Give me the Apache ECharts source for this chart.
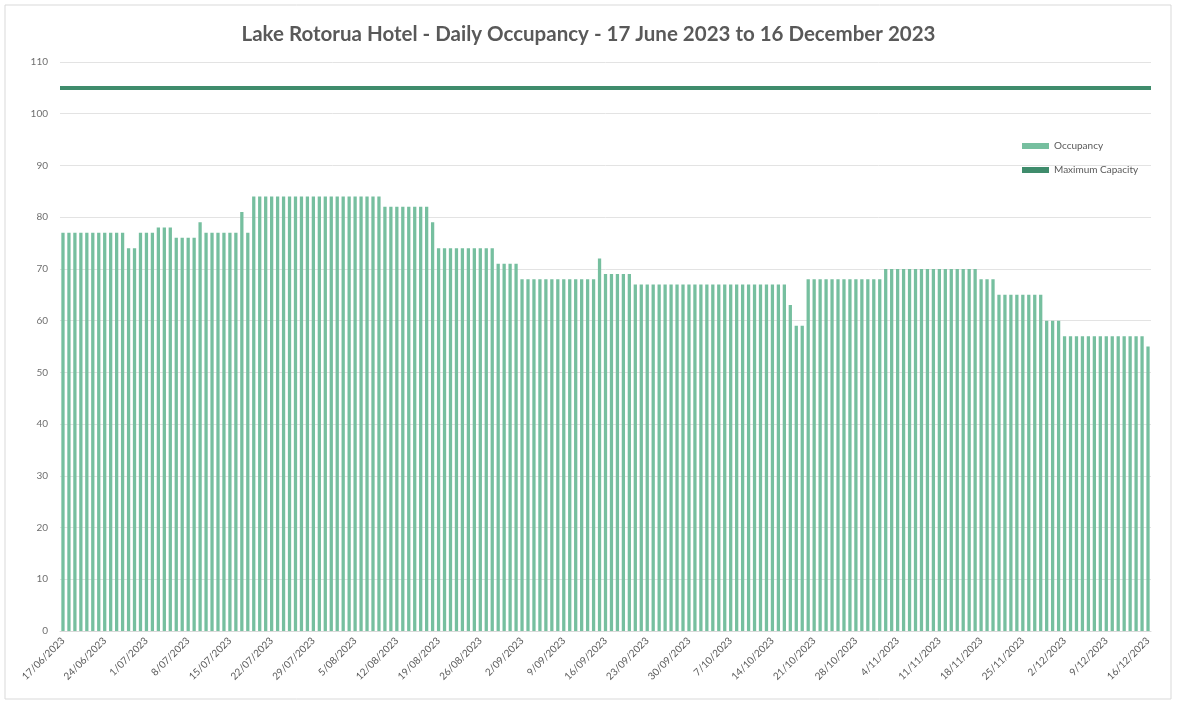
<!DOCTYPE html>
<html>
<head>
<meta charset="utf-8">
<script src="https://cdn.jsdelivr.net/npm/echarts@6/dist/echarts.min.js"></script>
<style>
  html, body { margin: 0; padding: 0; background: #fff; }
  #chart { width: 1177px; height: 702px; }
</style>
</head>
<body>
<div id="chart"></div>
<script>
// daily occupancy, 17/06/2023 .. 16/12/2023
const occupancy = [
  77, 77, 77, 77, 77, 77, 77, 77, 77, 77, 77, 74, 74, 77, 77, 77,
  78, 78, 78, 76, 76, 76, 76, 79, 77, 77, 77, 77, 77, 77, 81, 77,
  84, 84, 84, 84, 84, 84, 84, 84, 84, 84, 84, 84, 84, 84, 84, 84,
  84, 84, 84, 84, 84, 84,
  82, 82, 82, 82, 82, 82, 82, 82, 79,
  74, 74, 74, 74, 74, 74, 74, 74, 74, 74, 71, 71, 71, 71,
  68, 68, 68, 68, 68, 68, 68, 68, 68, 68, 68, 68, 68, 72,
  69, 69, 69, 69, 69,
  67, 67, 67, 67, 67, 67, 67, 67, 67, 67, 67, 67, 67, 67, 67, 67,
  67, 67, 67, 67, 67, 67, 67, 67, 67, 67, 63, 59, 59,
  68, 68, 68, 68, 68, 68, 68, 68, 68, 68, 68, 68, 68,
  70, 70, 70, 70, 70, 70, 70, 70, 70, 70, 70, 70, 70, 70, 70, 70,
  68, 68, 68, 65, 65, 65, 65, 65, 65, 65, 65, 60, 60, 60,
  57, 57, 57, 57, 57, 57, 57, 57, 57, 57, 57, 57, 57, 57, 55
];
const maxCapacity = 105;
const startDate = new Date(2023, 5, 17);

// one category per day, d/mm/yyyy like the source
const days = [];
for (let i = 0; i < occupancy.length; i++) {
  const d = new Date(startDate.getFullYear(), startDate.getMonth(), startDate.getDate() + i);
  const mm = String(d.getMonth() + 1).padStart(2, '0');
  days.push(d.getDate() + '/' + mm + '/' + d.getFullYear());
}

const chart = echarts.init(document.getElementById('chart'));
const grey = '#595959';

let option = {
  animation: false,
  textStyle: { fontFamily: 'Lato, "Open Sans", sans-serif' },
  title: {
    text: 'Lake Rotorua Hotel - Daily Occupancy - 17 June 2023 to 16 December 2023',
    left: 'center',
    top: 19,
    textStyle: { fontSize: 20.5, fontWeight: 'bold', color: grey, fontFamily: 'Lato, sans-serif' }
  },
  legend: {
    orient: 'vertical',
    left: 1017,
    top: 136,
    itemGap: 14,
    itemWidth: 27,
    itemHeight: 6,
    textStyle: { fontSize: 10, color: grey },
    data: [
      { name: 'Occupancy', icon: 'rect' },
      { name: 'Maximum Capacity', icon: 'rect' }
    ]
  },
  graphic: [{
    type: 'rect',
    shape: { x: 5, y: 5, width: 1166, height: 694 },
    style: { fill: 'none', stroke: '#d9d9d9', lineWidth: 1 },
    silent: true
  }],
  grid: { left: 60, right: 26, top: 62, bottom: 71 },
  xAxis: {
    type: 'category',
    data: days,
    axisLine: { lineStyle: { color: '#d9d9d9' } },
    axisTick: { show: false },
    axisLabel: { interval: 6, rotate: 45, fontSize: 10, color: grey, margin: 8 }
  },
  yAxis: {
    type: 'value',
    min: 0,
    max: 110,
    interval: 10,
    axisLabel: { fontSize: 10, color: '#6f6f6f', margin: 12 },
    splitLine: { lineStyle: { color: '#e3e3e3' } }
  },
  series: [
    {
      name: 'Occupancy',
      type: 'bar',
      data: occupancy,
      barCategoryGap: '45%',
      itemStyle: { color: '#76bf9f' }
    },
    {
      name: 'Maximum Capacity',
      type: 'line',
      data: [],
      lineStyle: { color: '#3f8c6c', width: 4 },
      itemStyle: { color: '#3f8c6c' },
      symbol: 'none',
      markLine: {
        silent: true,
        symbol: 'none',
        label: { show: false },
        lineStyle: { color: '#3f8c6c', width: 4, type: 'solid' },
        data: [{ yAxis: maxCapacity }]
      }
    }
  ]
};
chart.setOption(option);
</script>
</body>
</html>
